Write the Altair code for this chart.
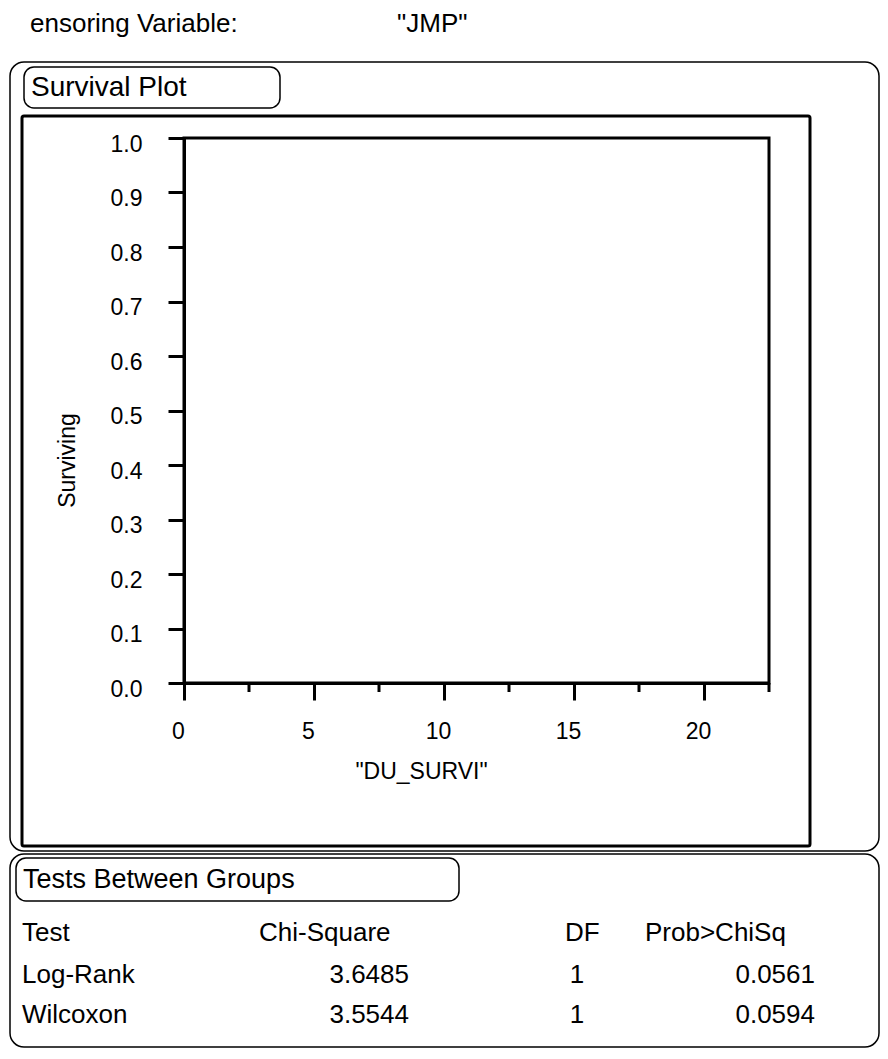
import altair as alt
import pandas as pd

# ---- data -------------------------------------------------------------
y_ticks = [0.0, 0.1, 0.2, 0.3, 0.4, 0.5, 0.6, 0.7, 0.8, 0.9, 1.0]
x_ticks = [0, 5, 10, 15, 20]
x_minor = [2.5, 7.5, 12.5, 17.5, 22.5]
x_domain = [0, 22.5]
y_domain = [0, 1]

tests = ["Log-Rank", "Wilcoxon"]
chi_square = [3.6485, 3.5544]
dfs = [1, 1]
prob = [0.0561, 0.0594]

FONT = "Liberation Sans"
AX = 23      # axis text size
TB = 26      # table text size

# ---- geometry (plot area) ---------------------------------------------
W, H = 585, 545
OX, OY = 184, 138          # page position of plot origin
def px(x): return x - OX
def py(y): return y - OY

one = alt.Data(values=[{"a": 1}])

def box(x1, x2, y1, y2, r=0, sw=1.5):
    return alt.Chart(one).mark_rect(
        fillOpacity=0, stroke="black", strokeWidth=sw, cornerRadius=r
    ).encode(x=alt.value(px(x1)), x2=alt.value(px(x2)),
             y=alt.value(py(y1)), y2=alt.value(py(y2)))

def label(txt, x, y, size=TB, align="left"):
    return alt.Chart(one).mark_text(
        text=txt, font=FONT, fontSize=size, align=align, baseline="middle", color="black"
    ).encode(x=alt.value(px(x)), y=alt.value(py(y)))

# ---- survival plot (empty) -------------------------------------------
frame_df = pd.DataFrame({"t": [x_domain[0]], "s": [y_domain[0]]})
base = alt.Chart(frame_df).mark_point(opacity=0).encode(
    x=alt.X("t:Q", scale=alt.Scale(domain=x_domain, nice=False, zero=False),
            axis=alt.Axis(values=x_ticks, title='"DU_SURVI"', format="d",
                          tickSize=17, tickWidth=3, domainWidth=3,
                          labelBaseline="alphabetic", labelPadding=38, labelOffset=-6,
                          titleX=237, titleY=95, titleBaseline="alphabetic",
                          titleAlign="center", grid=False)),
    y=alt.Y("s:Q", scale=alt.Scale(domain=y_domain, nice=False),
            axis=alt.Axis(values=y_ticks, format=".1f", title="Surviving",
                          tickSize=16, tickWidth=3, domainWidth=3,
                          labelPadding=26, labelOffset=6, labelBaseline="middle",
                          titleX=-110, titleY=322, titleAngle=270,
                          titleBaseline="alphabetic", titleAlign="center",
                          grid=False)),
)

minor_df = pd.DataFrame({"m": x_minor})
minor = alt.Chart(minor_df).mark_rule(color="black", strokeWidth=3).encode(
    x=alt.X("m:Q"), y=alt.value(H), y2=alt.value(H + 9)
)

# ---- table ------------------------------------------------------------
tab = pd.DataFrame({"test": tests, "chi": chi_square, "df": dfs, "p": prob})
rowy = alt.Y("test:N", sort=tests, axis=None,
             scale=alt.Scale(type="point", range=[py(975), py(1015)], padding=0))

def col(field, x, align, fmt=None):
    t = alt.Text(field, format=fmt) if fmt else alt.Text(field)
    return alt.Chart(tab).mark_text(
        font=FONT, fontSize=TB, align=align, baseline="middle", color="black"
    ).encode(x=alt.value(px(x)), y=rowy, text=t)

layers = [
    box(10, 879, 62, 851, r=14),
    box(24, 280, 67, 108, r=10),
    box(22, 810, 116, 846, r=2, sw=3),
    box(10, 879, 854, 1047, r=14),
    box(16, 459, 858, 901, r=10),
    label("ensoring Variable:", 30, 24, size=26),
    label('"JMP"', 397, 24, size=26),
    label("Survival Plot", 31, 88, size=28),
    label("Tests Between Groups", 23, 880, size=27),
    label("Test", 22, 933),
    label("Chi-Square", 259, 933),
    label("DF", 565, 933),
    label("Prob>ChiSq", 645, 933),
    base,
    minor,
    col("test:N", 22, "left"),
    col("chi:Q", 409, "right", ".4f"),
    col("df:Q", 577, "center", "d"),
    col("p:Q", 815, "right", ".4f"),
]

chart = alt.layer(*layers).resolve_scale(y="independent").properties(
    width=W, height=H,
    background="white",
    autosize=alt.AutoSizeParams(type="none"),
    padding={"left": OX - 8, "top": OY - 8, "right": 880 - (OX - 8) - W - 8,
             "bottom": 1043 - (OY - 8) - H},
).configure_view(stroke="black", strokeWidth=3).configure_axis(
    labelFont=FONT, titleFont=FONT, labelFontSize=AX, titleFontSize=AX,
    titleFontWeight="normal", labelColor="black", titleColor="black",
    domainColor="black", tickColor="black", labelFlush=False, labelOverlap=False,
)

chart.save("out.html", embed_options={"renderer": "svg", "actions": False})
